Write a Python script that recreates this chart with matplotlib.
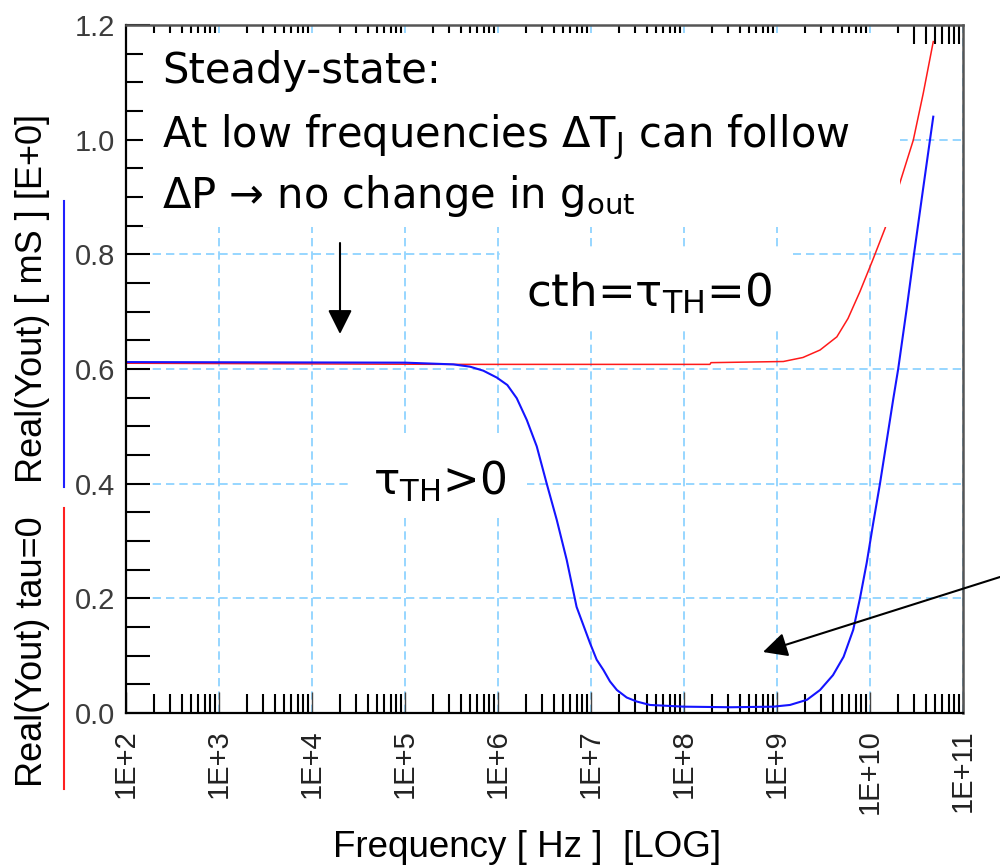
import numpy as np
import matplotlib
matplotlib.use('Agg')
import matplotlib.pyplot as plt
from matplotlib.ticker import LogLocator, MultipleLocator, NullFormatter
from matplotlib.patches import Rectangle
from matplotlib.lines import Line2D

# values: frequency [Hz] -> Real(Yout) [mS]
freq_tau0 = [1.0e2, 3.3e5, 1.9e8, 1.95e8, 1.17e9, 1.9e9, 2.9e9, 4.4e9, 5.8e9,
             7.8e9, 1.07e10, 1.45e10, 2.09e10, 2.92e10, 3.74e10, 4.79e10]
real_tau0 = [0.610, 0.608, 0.608, 0.611, 0.613, 0.620, 0.633, 0.656, 0.688,
             0.735, 0.790, 0.845, 0.924, 0.999, 1.081, 1.171]

freq_tau = [1.0e2, 1.0e5, 3.3e5, 5.0e5, 6.95e5, 9.7e5, 1.26e6, 1.59e6, 2.04e6,
            2.61e6, 3.34e6, 4.28e6, 5.48e6, 7.0e6, 9.75e6, 1.15e7, 1.36e7,
            1.6e7, 1.9e7, 2.42e7, 3.1e7, 4.3e7, 1.0e8, 3.2e8, 9.1e8, 1.38e9,
            2.1e9, 2.9e9, 4.0e9, 5.2e9, 6.6e9, 7.8e9, 9.22e9, 1.08e10, 1.28e10,
            1.51e10, 1.78e10, 2.01e10, 2.48e10, 2.97e10, 3.62e10, 4.42e10,
            4.79e10]
real_tau = [0.612, 0.611, 0.608, 0.604, 0.597, 0.585, 0.572, 0.549, 0.511,
            0.465, 0.400, 0.337, 0.267, 0.185, 0.122, 0.093, 0.075,
            0.055, 0.040, 0.027, 0.020, 0.014, 0.011, 0.010, 0.011, 0.014,
            0.023, 0.040, 0.066, 0.098, 0.145, 0.200, 0.262, 0.330, 0.400,
            0.474, 0.548, 0.600, 0.705, 0.800, 0.900, 1.000,
            1.040]

xtick_pos = [1e2, 1e3, 1e4, 1e5, 1e6, 1e7, 1e8, 1e9, 1e10, 1e11]
xtick_labels = ['1E+2', '1E+3', '1E+4', '1E+5', '1E+6', '1E+7', '1E+8',
                '1E+9', '1E+10', '1E+11']
ytick_pos = [0.0, 0.2, 0.4, 0.6, 0.8, 1.0, 1.2]
ytick_labels = ['0.0', '0.2', '0.4', '0.6', '0.8', '1.0', '1.2']

plt.rcParams['font.family'] = ['Liberation Sans', 'DejaVu Sans']
plt.rcParams['mathtext.default'] = 'regular'
plt.rcParams['lines.scale_dashes'] = False


def fx(x):
    return x / 1000.0


def fy(y):
    return 1 - y / 866.0


fig = plt.figure(figsize=(10, 8.66), dpi=100)
ax = fig.add_axes([0.126, 0.1767, 0.837, 0.7945])

ax.plot(freq_tau0, real_tau0, color='#ff1a1a', lw=1.1, zorder=2)
ax.plot(freq_tau, real_tau, color='#1414ff', lw=1.5, zorder=2.1)

ax.set_xscale('log')
ax.set_xlim(1e2, 1e11)
ax.set_ylim(0, 1.2)

ax.set_xticks(xtick_pos, xtick_labels)
ax.xaxis.set_minor_locator(LogLocator(base=10, subs=np.arange(2, 10), numticks=100))
ax.xaxis.set_minor_formatter(NullFormatter())
ax.set_yticks(ytick_pos, ytick_labels)
ax.yaxis.set_minor_locator(MultipleLocator(0.05))

ax.grid(True, which='major', color='#8fd3ff', linestyle=(0, (6, 3.6)), lw=1.3)

ax.tick_params(axis='y', which='both', direction='in', length=17, width=1.5,
               color='k', left=True, right=False)
ax.tick_params(axis='y', which='major', labelsize=21, labelcolor='#3c3c3c', pad=8)
ax.tick_params(axis='x', which='minor', direction='in', length=14, width=1.5,
               color='k', top=True, bottom=True)
ax.tick_params(axis='x', which='major', direction='in', length=15, width=1,
               color='#444444', top=False, bottom=True, labelsize=21,
               labelcolor='#222222', pad=12, labelrotation=90)

for s in ['left', 'bottom']:
    ax.spines[s].set_color('k')
    ax.spines[s].set_linewidth(1.6)
for s in ['top', 'right']:
    ax.spines[s].set_color('#555555')
    ax.spines[s].set_linewidth(1.8)

# white boxes behind the overlaid annotation texts
for x0, y0, w, h in [(0.0203, 0.7064, 0.9044, 0.282),
                     (0.4468, 0.5596, 0.3502, 0.1163),
                     (0.2676, 0.2849, 0.2115, 0.1163)]:
    ax.add_patch(Rectangle((x0, y0), w, h, transform=ax.transAxes,
                           facecolor='white', edgecolor='none', zorder=3))

note_font = dict(family='DejaVu Sans', color='k', va='baseline', ha='left', zorder=5)
fig.text(fx(162), fy(83), 'Steady-state:', fontsize=30, **note_font)
fig.text(fx(162), fy(147), 'At low frequencies ΔT$_J$ can follow', fontsize=30, **note_font)
fig.text(fx(162), fy(208), 'ΔP → no change in g$_{out}$', fontsize=30, **note_font)
fig.text(fx(526), fy(307), 'cth=τ$_{TH}$=0', fontsize=32.5, **note_font)
fig.text(fx(373), fy(495), 'τ$_{TH}$>0', fontsize=31.5, **note_font)

arrow = dict(arrowstyle='-|>,head_length=0.4,head_width=0.2', mutation_scale=37,
             lw=1.5, color='k', shrinkA=0, shrinkB=0)
ax.annotate('', xy=(fx(340), fy(334)), xytext=(fx(340), fy(243)),
            xycoords='figure fraction', textcoords='figure fraction',
            arrowprops=arrow, zorder=5)
ax.annotate('', xy=(fx(763), fy(652)), xytext=(fx(1000), fy(577)),
            xycoords='figure fraction', textcoords='figure fraction',
            arrowprops=arrow, zorder=5)

# axis labels
fig.text(fx(333), fy(857), 'Frequency [ Hz ]  [LOG]', fontsize=26.5,
         ha='left', va='baseline', color='k')
fig.text(fx(33), fy(787), 'Real(Yout) tau=0', fontsize=26, rotation=90,
         ha='center', va='bottom', color='k')
fig.text(fx(33), fy(483), 'Real(Yout) [ mS ] [E+0]', fontsize=26, rotation=90,
         ha='center', va='bottom', color='k')
fig.add_artist(Line2D([fx(64), fx(64)], [fy(508), fy(789)], color='#ff2020',
                      lw=1.5, transform=fig.transFigure))
fig.add_artist(Line2D([fx(64), fx(64)], [fy(201), fy(487)], color='#2020ff',
                      lw=1.5, transform=fig.transFigure))

fig.savefig('out.png', dpi=100)
